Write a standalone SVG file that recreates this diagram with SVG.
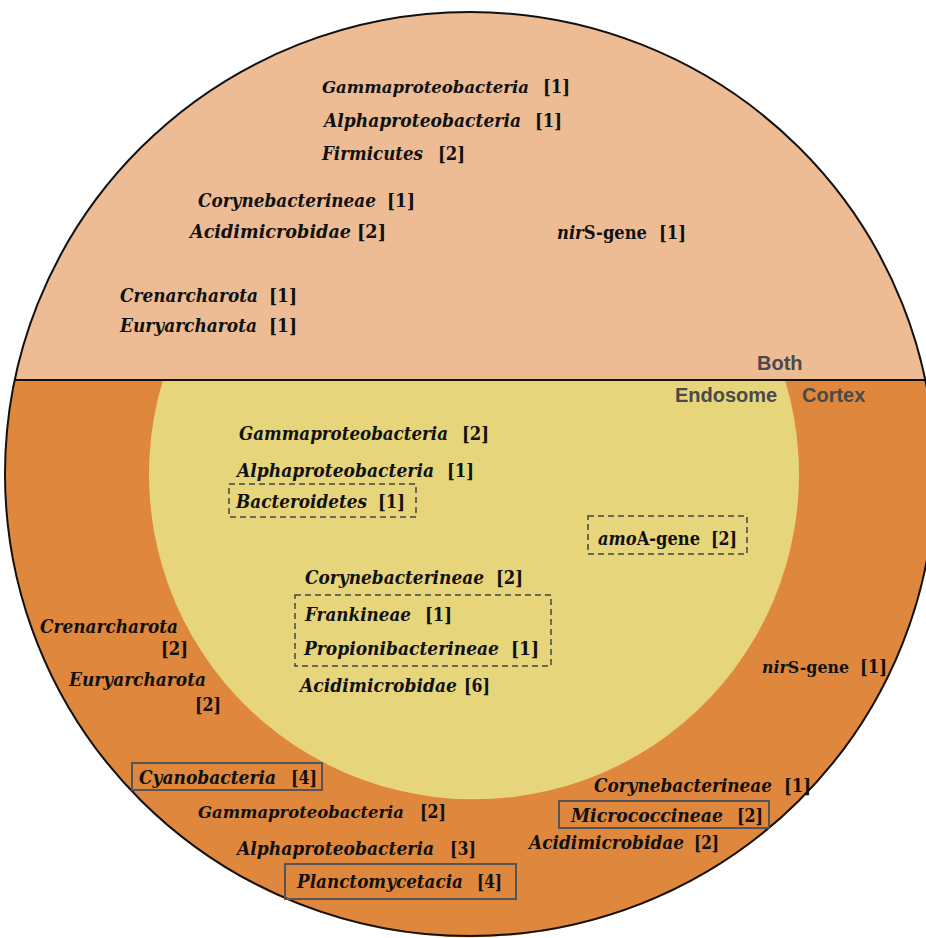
<svg xmlns="http://www.w3.org/2000/svg" width="926" height="938" viewBox="0 0 926 938">
<style>
.n{font-family:"DejaVu Serif","Liberation Serif",serif;font-style:italic;font-weight:bold;font-size:18px;fill:#111}
.g{font-family:"DejaVu Serif","Liberation Serif",serif;font-weight:bold;font-size:18px;fill:#111}
.s{font-size:16.5px}
.i{font-style:italic}
.r{font-family:"Liberation Sans",Arial,sans-serif;font-weight:bold;font-size:20px;fill:#4a4a4a}
.dash{fill:none;stroke:#444;stroke-width:1.5;stroke-dasharray:6 4}
.box{fill:none;stroke:#555;stroke-width:2}
</style>
<g id="regions">
<ellipse cx="470" cy="474" rx="465" ry="462" fill="#EDBC95"/>
<path d="M15,380 A465,462 0 1,0 925,380 Z" fill="#DF873C"/>
<path d="M163,380 A325,325 0 1,0 785,380 Z" fill="#E6D57B"/>
<line x1="15" y1="380" x2="926" y2="380" stroke="#111" stroke-width="2"/>
<ellipse cx="470" cy="474" rx="465" ry="462" fill="none" stroke="#111" stroke-width="2"/>
</g>
<g id="region-labels">
<text class="r" x="757" y="370">Both</text>
<text class="r" x="675" y="402">Endosome</text>
<text class="r" x="802" y="402">Cortex</text>
</g>
<g id="both">
<g id="b1"><text class="n s" x="322" y="93" textLength="207" lengthAdjust="spacingAndGlyphs">Gammaproteobacteria</text><text class="g" x="543" y="93" textLength="27" lengthAdjust="spacingAndGlyphs">[1]</text></g>
<g id="b2"><text class="n" x="324" y="127" textLength="197" lengthAdjust="spacingAndGlyphs">Alphaproteobacteria</text><text class="g" x="535" y="127" textLength="27" lengthAdjust="spacingAndGlyphs">[1]</text></g>
<g id="b3"><text class="n" x="322" y="160" textLength="101" lengthAdjust="spacingAndGlyphs">Firmicutes</text><text class="g" x="438" y="160" textLength="27" lengthAdjust="spacingAndGlyphs">[2]</text></g>
<g id="b4"><text class="n" x="198" y="207" textLength="178" lengthAdjust="spacingAndGlyphs">Corynebacterineae</text><text class="g" x="387" y="207" textLength="28" lengthAdjust="spacingAndGlyphs">[1]</text></g>
<g id="b5"><text class="n" x="190" y="238" textLength="161" lengthAdjust="spacingAndGlyphs">Acidimicrobidae</text><text class="g" x="357" y="238" textLength="29" lengthAdjust="spacingAndGlyphs">[2]</text></g>
<g id="b6"><text class="g" x="557" y="239" textLength="90" lengthAdjust="spacingAndGlyphs"><tspan class="i">nir</tspan>S-gene</text><text class="g" x="659" y="239" textLength="27" lengthAdjust="spacingAndGlyphs">[1]</text></g>
<g id="b7"><text class="n" x="120" y="302" textLength="138" lengthAdjust="spacingAndGlyphs">Crenarcharota</text><text class="g" x="269" y="302" textLength="28" lengthAdjust="spacingAndGlyphs">[1]</text></g>
<g id="b8"><text class="n" x="120" y="332" textLength="137" lengthAdjust="spacingAndGlyphs">Euryarcharota</text><text class="g" x="269" y="332" textLength="28" lengthAdjust="spacingAndGlyphs">[1]</text></g>
</g>
<g id="endosome">
<g id="e1"><text class="n" x="239" y="440" textLength="209" lengthAdjust="spacingAndGlyphs">Gammaproteobacteria</text><text class="g" x="462" y="440" textLength="27" lengthAdjust="spacingAndGlyphs">[2]</text></g>
<g id="e2"><text class="n" x="237" y="477" textLength="197" lengthAdjust="spacingAndGlyphs">Alphaproteobacteria</text><text class="g" x="447" y="477" textLength="27" lengthAdjust="spacingAndGlyphs">[1]</text></g>
<g id="e3"><rect class="dash" x="229" y="484" width="187" height="33"/><text class="n" x="236" y="508" textLength="131" lengthAdjust="spacingAndGlyphs">Bacteroidetes</text><text class="g" x="378" y="508" textLength="27" lengthAdjust="spacingAndGlyphs">[1]</text></g>
<g id="e4"><rect class="dash" x="588" y="516" width="159" height="38"/><text class="g" x="598" y="545" textLength="102" lengthAdjust="spacingAndGlyphs"><tspan class="i">amo</tspan>A-gene</text><text class="g" x="711" y="545" textLength="26" lengthAdjust="spacingAndGlyphs">[2]</text></g>
<g id="e5"><text class="n" x="305" y="584" textLength="179" lengthAdjust="spacingAndGlyphs">Corynebacterineae</text><text class="g" x="496" y="584" textLength="27" lengthAdjust="spacingAndGlyphs">[2]</text></g>
<g id="e67"><rect class="dash" x="295" y="595" width="256" height="71"/>
<text class="n" x="305" y="621" textLength="106" lengthAdjust="spacingAndGlyphs">Frankineae</text><text class="g" x="425" y="621" textLength="27" lengthAdjust="spacingAndGlyphs">[1]</text>
<text class="n" x="304" y="655" textLength="195" lengthAdjust="spacingAndGlyphs">Propionibacterineae</text><text class="g" x="511" y="655" textLength="28" lengthAdjust="spacingAndGlyphs">[1]</text></g>
<g id="e8"><text class="n" x="300" y="692" textLength="157" lengthAdjust="spacingAndGlyphs">Acidimicrobidae</text><text class="g" x="464" y="692" textLength="26" lengthAdjust="spacingAndGlyphs">[6]</text></g>
</g>
<g id="cortex">
<g id="c1"><text class="n" x="40" y="633" textLength="138" lengthAdjust="spacingAndGlyphs">Crenarcharota</text><text class="g" x="161" y="655" textLength="27" lengthAdjust="spacingAndGlyphs">[2]</text></g>
<g id="c2"><text class="n" x="69" y="686" textLength="137" lengthAdjust="spacingAndGlyphs">Euryarcharota</text><text class="g" x="195" y="711" textLength="26" lengthAdjust="spacingAndGlyphs">[2]</text></g>
<g id="c3"><text class="g s" x="762" y="673" textLength="87" lengthAdjust="spacingAndGlyphs"><tspan class="i">nir</tspan>S-gene</text><text class="g" x="860" y="673" textLength="27" lengthAdjust="spacingAndGlyphs">[1]</text></g>
<g id="c4"><rect class="box" x="132" y="763" width="190" height="27"/><text class="n" x="139" y="784" textLength="137" lengthAdjust="spacingAndGlyphs">Cyanobacteria</text><text class="g" x="291" y="784" textLength="26" lengthAdjust="spacingAndGlyphs">[4]</text></g>
<g id="c5"><text class="n s" x="198" y="818" textLength="206" lengthAdjust="spacingAndGlyphs">Gammaproteobacteria</text><text class="g" x="420" y="818" textLength="26" lengthAdjust="spacingAndGlyphs">[2]</text></g>
<g id="c6"><text class="n" x="237" y="855" textLength="197" lengthAdjust="spacingAndGlyphs">Alphaproteobacteria</text><text class="g" x="450" y="855" textLength="26" lengthAdjust="spacingAndGlyphs">[3]</text></g>
<g id="c7"><rect class="box" x="285" y="864" width="231" height="35"/><text class="n" x="297" y="888" textLength="166" lengthAdjust="spacingAndGlyphs">Planctomycetacia</text><text class="g" x="477" y="888" textLength="25" lengthAdjust="spacingAndGlyphs">[4]</text></g>
<g id="c8"><text class="n" x="594" y="792" textLength="178" lengthAdjust="spacingAndGlyphs">Corynebacterineae</text><text class="g" x="784" y="792" textLength="27" lengthAdjust="spacingAndGlyphs">[1]</text></g>
<g id="c9"><rect class="box" x="559" y="801" width="210" height="27"/><text class="n" x="571" y="822" textLength="152" lengthAdjust="spacingAndGlyphs">Micrococcineae</text><text class="g" x="737" y="822" textLength="26" lengthAdjust="spacingAndGlyphs">[2]</text></g>
<g id="c10"><text class="n" x="529" y="849" textLength="155" lengthAdjust="spacingAndGlyphs">Acidimicrobidae</text><text class="g" x="694" y="849" textLength="25" lengthAdjust="spacingAndGlyphs">[2]</text></g>
</g>
</svg>
